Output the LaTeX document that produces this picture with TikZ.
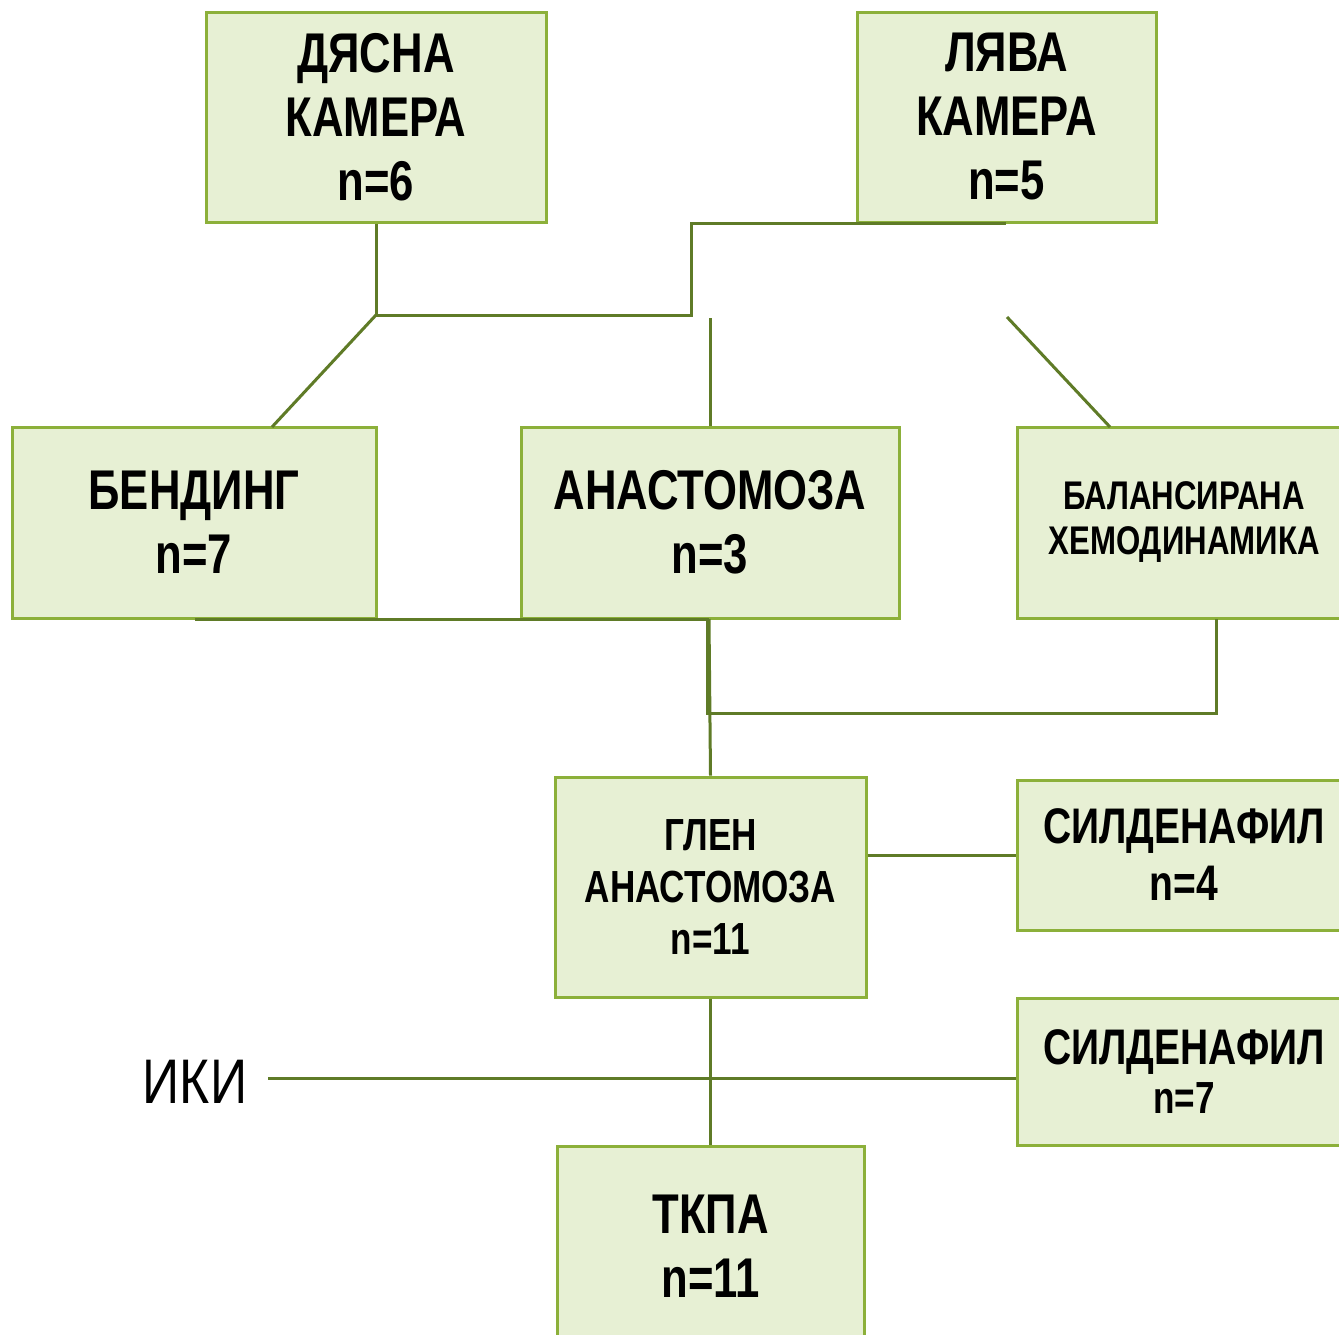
\documentclass[tikz,border=0pt]{standalone}
\usepackage{fontspec}
\setmainfont[FakeStretch=0.78]{Liberation Sans}
\newfontfamily\thinfont[FakeStretch=0.82]{Liberation Sans}
\definecolor{boxfill}{HTML}{E7F0D4}
\definecolor{boxdraw}{HTML}{8CB03A}
\definecolor{linecol}{HTML}{5F7B27}
\begin{document}
\begin{tikzpicture}[x=1pt,y=-1pt,
  box/.style={draw=boxdraw,fill=boxfill,line width=3pt,rectangle,inner sep=0pt,align=center,font=\bfseries},
  link/.style={draw=linecol,line width=3pt},
  big/.style={font=\bfseries\fontsize{56}{64}\selectfont},
  mid/.style={font=\bfseries\fontsize{45}{52}\selectfont},
  small/.style={font=\bfseries\fontsize{40}{45}\selectfont},
  sil/.style={font=\bfseries\fontsize{50}{57}\selectfont}]
\useasboundingbox (0,0) rectangle (1339,1334);
\fill[white] (0,0) rectangle (1339,1334);
% boxes
\node[box,big,minimum width=340,minimum height=210] (rc) at (376,117) {\raisebox{-3pt}{ДЯСНА}\\\raisebox{-3pt}{КАМЕРА}\\\raisebox{-3pt}{n=6}};
\node[box,big,minimum width=299,minimum height=210] (lc) at (1006.5,117) {\raisebox{-3pt}{ЛЯВА}\\\raisebox{-3pt}{КАМЕРА}\\\raisebox{-3pt}{n=5}};
\node[box,big,minimum width=364,minimum height=191] (bend) at (194,522.5) {\raisebox{-3pt}{БЕНДИНГ}\\\raisebox{-3pt}{n=7}};
\node[box,big,minimum width=378,minimum height=191] (anas) at (710,522.5) {\raisebox{-3pt}{АНАСТОМОЗА}\\\raisebox{-3pt}{n=3}};
\node[box,small,minimum width=334,minimum height=191] (bal) at (1184,522.5) {\raisebox{-2pt}{БАЛАНСИРАНА}\\\raisebox{-2pt}{ХЕМОДИНАМИКА}};
\node[box,mid,minimum width=311,minimum height=220] (glen) at (710.5,887) {\raisebox{-2pt}{ГЛЕН}\\\raisebox{-2pt}{АНАСТОМОЗА}\\\raisebox{-2pt}{n=11}};
\node[box,sil,minimum width=334,minimum height=150] (sil1) at (1184,855) {СИЛДЕНАФИЛ\\n=4};
\node[box,minimum width=334,minimum height=147] (sil2) at (1184,1071.5) {{\fontsize{50}{50}\selectfont СИЛДЕНАФИЛ}\\[8pt]{\fontsize{45}{45}\selectfont n=7}};
\node[box,big,minimum width=307,minimum height=200] (tkpa) at (710.5,1246) {ТКПА\\n=11};
\node[font=\thinfont\fontsize{63}{63}\selectfont,anchor=center] (iki) at (195,1082) {ИКИ};
% junction coordinates
\coordinate (j1) at (376,315);
\coordinate (j2) at (691,315);
\coordinate (j3) at (691,223);
\coordinate (j4) at (1006,223);
\coordinate (a1) at (710,318);
\coordinate (b1) at (1007,317);
\coordinate (bendtop) at (272,427);
\coordinate (baltop) at (1110,427);
\coordinate (h1) at (195,619);
\coordinate (h2) at (707,619);
\coordinate (h3) at (707,713);
\coordinate (h4) at (1216,713);
\coordinate (h5) at (1216,619);
\coordinate (ikiend) at (268,1078);
% connectors
\draw[link] (rc.south) -- (j1) -- (j2) -- (j3) -- (j4);
\draw[link] (j1) -- (bendtop);
\draw[link] (a1) -- (anas.north);
\draw[link] (b1) -- (baltop);
\draw[link] (h1) -- (h2) -- (h3) -- (h4) -- (h5);
\draw[link] (709,619) -- (glen.north);
\draw[link] (glen.east |- sil1.west) -- (sil1.west);
\draw[link] (glen.south) -- (tkpa.north);
\draw[link] (ikiend) -- (sil2.west |- ikiend);
\end{tikzpicture}
\end{document}
